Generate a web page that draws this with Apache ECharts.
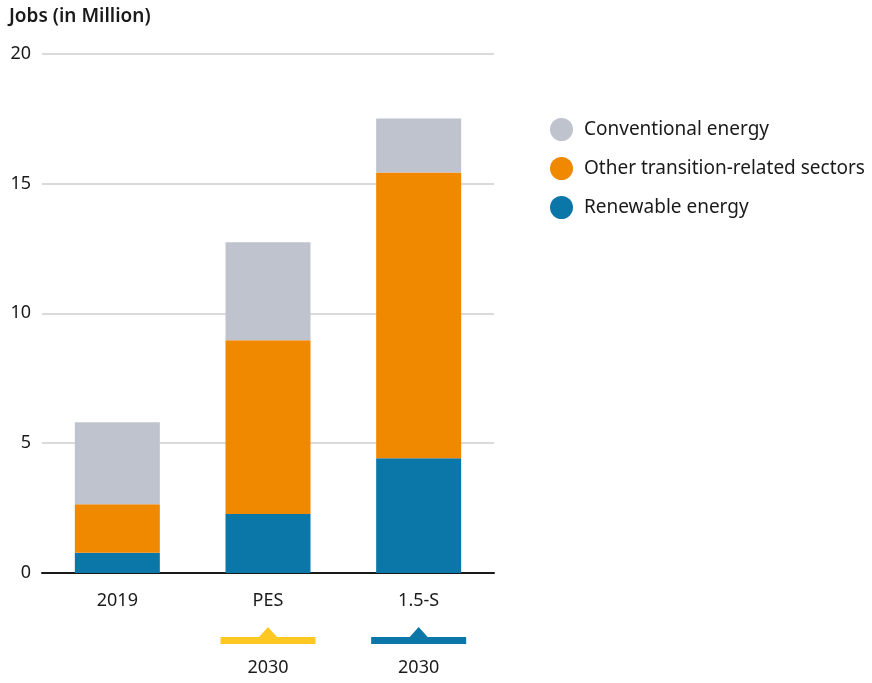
<!DOCTYPE html>
<html>
<head>
<meta charset="utf-8">
<script src="https://cdn.jsdelivr.net/npm/echarts@6/dist/echarts.min.js"></script>
<style>
html,body{margin:0;padding:0;background:#fff;}
#main{width:872px;height:683px;}
</style>
</head>
<body>
<div id="main"></div>
<script>
const categories = ['2019', 'PES', '1.5-S'];
const renewable = [0.78, 2.27, 4.42];
const otherTransition = [1.87, 6.69, 11.0];
const conventional = [3.15, 3.77, 2.08];
const yTicks = [0, 5, 10, 15, 20];
const scenarioYears = [null, '2030', '2030'];
const scenarioColors = [null, '#FDC822', '#0B76A8'];

const FONT = '"Noto Sans", Lato, sans-serif';
const chart = echarts.init(document.getElementById('main'), null, {renderer: 'canvas'});

const option = {
  animation: false,
  textStyle: {fontFamily: FONT},
  title: {
    text: 'Jobs (in Million)',
    left: 4, top: 2,
    textStyle: {fontFamily: FONT, fontSize: 19, fontWeight: 600, color: '#1a1a1a'}
  },
  legend: {
    orient: 'vertical',
    left: 545, top: 113,
    icon: 'circle',
    itemWidth: 23, itemHeight: 23,
    itemGap: 16,
    textStyle: {fontFamily: FONT, fontSize: 19, color: '#1a1a1a', padding: [0, 0, 0, 6]},
    data: ['Conventional energy', 'Other transition-related sectors', 'Renewable energy']
  },
  grid: {left: 42, right: 378, top: 53.5, bottom: 110, containLabel: false},
  xAxis: {
    type: 'category',
    data: categories,
    axisLine: {show: true, lineStyle: {color: '#1a1a1a', width: 2}},
    axisTick: {show: false},
    axisLabel: {fontFamily: FONT, fontSize: 18, color: '#1a1a1a', margin: 19}
  },
  yAxis: {
    type: 'value',
    min: yTicks[0], max: yTicks[yTicks.length - 1], interval: 5,
    axisLine: {show: false},
    axisTick: {show: false},
    axisLabel: {fontFamily: FONT, fontSize: 18, color: '#1a1a1a', margin: 11},
    splitLine: {lineStyle: {color: '#DADADA', width: 2}}
  },
  series: [
    {name: 'Renewable energy', type: 'bar', stack: 'jobs', data: renewable, barWidth: 85,
     itemStyle: {color: '#0B76A8'}},
    {name: 'Other transition-related sectors', type: 'bar', stack: 'jobs', data: otherTransition,
     itemStyle: {color: '#F08800'}},
    {name: 'Conventional energy', type: 'bar', stack: 'jobs', data: conventional,
     itemStyle: {color: '#BEC3CD'}}
  ]
};
chart.setOption(option);

// scenario year markers below axis, positioned via the category scale
const graphics = [];
const baseY = chart.convertToPixel({yAxisIndex: 0}, 0);
categories.forEach((c, i) => {
  if (!scenarioYears[i]) return;
  const cx = chart.convertToPixel({xAxisIndex: 0}, c);
  const yBar = baseY + 64;
  const half = 47.5;
  graphics.push({
    type: 'polygon',
    shape: {points: [
      [cx - half, yBar + 7], [cx - half, yBar], [cx - 9, yBar], [cx, yBar - 10],
      [cx + 9, yBar], [cx + half, yBar], [cx + half, yBar + 7]
    ]},
    style: {fill: scenarioColors[i]}
  });
  graphics.push({
    type: 'text',
    x: cx, y: yBar + 31,
    style: {text: scenarioYears[i], fontFamily: FONT, fontSize: 18, fill: '#1a1a1a',
            align: 'center', verticalAlign: 'middle'}
  });
});
chart.setOption({graphic: graphics});
</script>
</body>
</html>
